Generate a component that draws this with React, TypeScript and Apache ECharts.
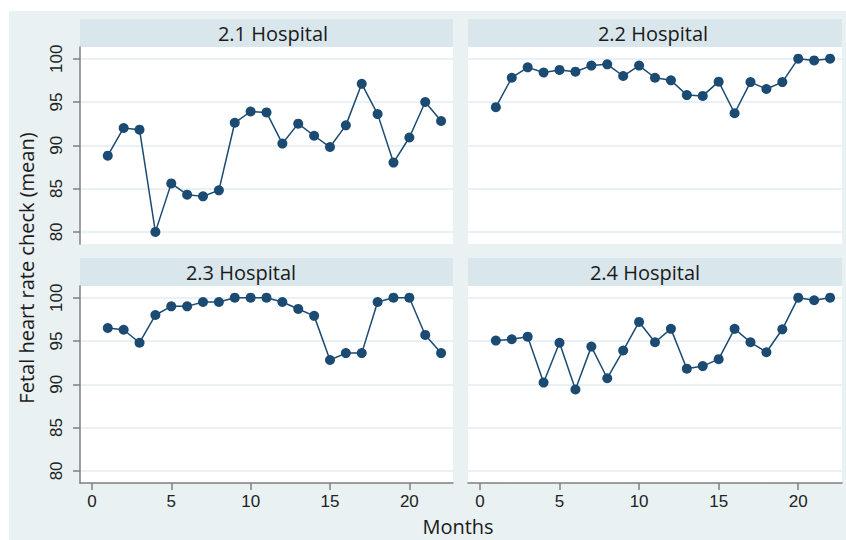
import React, { useEffect, useRef } from "react";
import * as echarts from "echarts";

const months = [1, 2, 3, 4, 5, 6, 7, 8, 9, 10, 11, 12, 13, 14, 15, 16, 17, 18, 19, 20, 21, 22];
const hospital21 = [88.8, 92.0, 91.8, 80.0, 85.6, 84.3, 84.1, 84.8, 92.6, 93.9, 93.8, 90.2, 92.5, 91.1, 89.8, 92.3, 97.1, 93.6, 88.0, 90.9, 95.0, 92.8];
const hospital22 = [94.4, 97.8, 99.0, 98.4, 98.7, 98.5, 99.2, 99.35, 98.0, 99.2, 97.8, 97.5, 95.8, 95.7, 97.35, 93.7, 97.3, 96.5, 97.3, 100, 99.8, 100];
const hospital23 = [96.5, 96.3, 94.8, 98.0, 99.0, 99.0, 99.5, 99.5, 100, 100, 100, 99.5, 98.7, 97.9, 92.8, 93.6, 93.6, 99.5, 100, 100, 95.7, 93.6];
const hospital24 = [95.05, 95.2, 95.5, 90.2, 94.8, 89.4, 94.35, 90.7, 93.9, 97.2, 94.85, 96.4, 91.8, 92.1, 92.9, 96.4, 94.85, 93.7, 96.35, 100, 99.7, 100];
const panelTitles = ["2.1 Hospital", "2.2 Hospital", "2.3 Hospital", "2.4 Hospital"];
const xTicks = [0, 5, 10, 15, 20];
const yTicks = [80, 85, 90, 95, 100];
const yTitle = "Fetal heart rate check (mean)";
const xTitle = "Months";

const panelData = [hospital21, hospital22, hospital23, hospital24];

const NAVY = "#1b4a72";
const OUTER = "#e9f1f3";
const STRIP = "#d9e6eb";
const GRIDC = "#e3edf0";
const AXISC = "#808080";
const TICKFONT = "Liberation Sans";
const TITLEFONT = "Open Sans";

// layout
const grids = [
  { left: 80, top: 47, width: 373, height: 197 },
  { left: 468, top: 47, width: 374, height: 197 },
  { left: 80, top: 286, width: 373, height: 197 },
  { left: 468, top: 286, width: 374, height: 197 },
];
const stripH = 28;
const titleCx = [273, 653, 241, 645];

export default function App() {
  const ref = useRef<HTMLDivElement>(null);
  useEffect(() => {
    if (!ref.current) return;
    const chart = echarts.init(ref.current, undefined, { renderer: "svg" });

    const showY = [true, false, true, false];
    const showX = [false, false, true, true];

    const option: any = {
      animation: false,
      backgroundColor: "#ffffff",
      grid: grids.map((g) => ({
        ...g,
        show: true,
        backgroundColor: "#ffffff",
        borderWidth: 0,
        containLabel: false,
      })),
      xAxis: grids.map((_, i) => ({
        type: "value",
        gridIndex: i,
        min: -0.75,
        max: 22.75,
        axisLine: { show: showX[i], onZero: false, lineStyle: { color: AXISC, width: 1.5 } },
        axisTick: {
          show: showX[i],
          length: 7,
          customValues: xTicks,
          lineStyle: { color: AXISC, width: 1.5 },
        },
        axisLabel: {
          show: showX[i],
          customValues: xTicks,
          margin: 10,
          fontSize: 17,
          fontFamily: TICKFONT,
          color: "#222222",
        },
        splitLine: { show: false },
      })),
      yAxis: grids.map((_, i) => ({
        type: "value",
        gridIndex: i,
        min: 78.6,
        max: 101.35,
        axisLine: { show: showY[i], onZero: false, lineStyle: { color: AXISC, width: 1.5 } },
        axisTick: {
          show: showY[i],
          length: 7,
          customValues: yTicks,
          lineStyle: { color: AXISC, width: 1.5 },
        },
        axisLabel: {
          show: showY[i],
          customValues: yTicks,
          rotate: 90,
          margin: 15,
          fontSize: 17,
          fontFamily: TICKFONT,
          color: "#222222",
        },
        splitLine: { show: true, lineStyle: { color: GRIDC, width: 1.5 } },
      })),
      series: panelData.map((vals, i) => ({
        type: "line",
        xAxisIndex: i,
        yAxisIndex: i,
        data: months.map((m, k) => [m, vals[k]]),
        symbol: "circle",
        symbolSize: 10,
        showSymbol: true,
        itemStyle: { color: NAVY },
        lineStyle: { color: NAVY, width: 1.5 },
        z: 5,
      })),
      graphic: [
        {
          type: "rect",
          shape: { x: 9, y: 11, width: 837, height: 529 },
          style: { fill: OUTER },
          z: -10,
          silent: true,
        },
        ...grids.map((g) => ({
          type: "rect",
          shape: { x: g.left, y: g.top - stripH, width: g.width, height: stripH },
          style: { fill: STRIP },
          z: -5,
          silent: true,
        })),
        ...grids.map((g, i) => ({
          type: "text",
          x: titleCx[i],
          y: g.top - stripH / 2,
          style: {
            text: panelTitles[i],
            fontSize: 20,
            fontFamily: TITLEFONT,
            fill: "#1a1a1a",
            align: "center",
            verticalAlign: "middle",
          },
          z: 10,
        })),
        {
          type: "text",
          x: 26,
          y: 268,
          rotation: Math.PI / 2,
          style: {
            text: yTitle,
            fontSize: 20,
            fontFamily: TITLEFONT,
            fill: "#1a1a1a",
            align: "center",
            verticalAlign: "middle",
          },
          z: 10,
        },
        {
          type: "text",
          x: 458,
          y: 526,
          style: {
            text: xTitle,
            fontSize: 20,
            fontFamily: TITLEFONT,
            fill: "#1a1a1a",
            align: "center",
            verticalAlign: "middle",
          },
          z: 10,
        },
      ],
    };
    chart.setOption(option);
    return () => chart.dispose();
  }, []);

  return (
    <div
      ref={ref}
      style={{ position: "fixed", left: 0, top: 0, width: 846, height: 540 }}
    />
  );
}
